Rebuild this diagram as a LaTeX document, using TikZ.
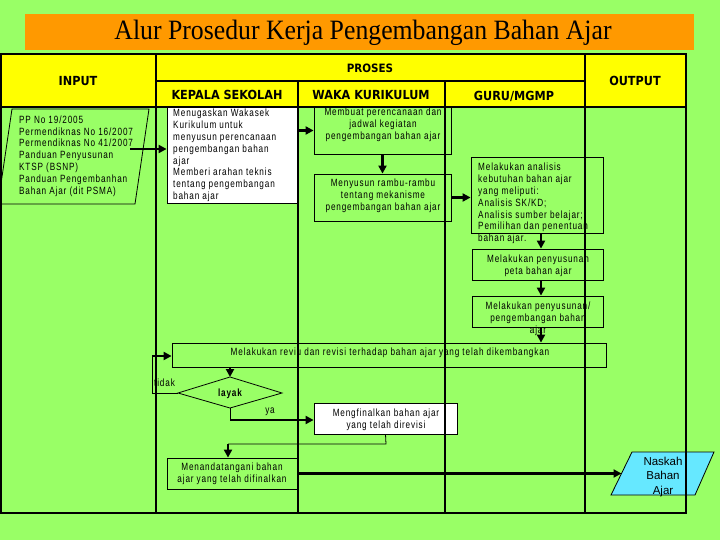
\documentclass[tikz,border=0pt]{standalone}
\usepackage{fontspec}
\usetikzlibrary{arrows.meta,calc}
\setmainfont{Liberation Serif}
\newfontfamily\bodyf[FakeStretch=0.78,LetterSpace=8]{Liberation Sans}
\newfontfamily\headf[FakeStretch=0.9]{DejaVu Sans}
\newfontfamily\titlef[FakeStretch=0.92]{Liberation Serif}
\newfontfamily\naskahf{Liberation Sans}
\definecolor{bg}{RGB}{153,255,102}
\definecolor{hdr}{RGB}{255,255,0}
\definecolor{orn}{RGB}{255,153,0}
\definecolor{cyn}{RGB}{102,232,255}
\tikzset{
  box/.style={draw=black, line width=0.8pt, inner sep=0pt},
  txt/.style={inner sep=0pt, font=\bodyf\fontsize{10.5}{11.8}\selectfont},
  hd/.style={inner sep=0pt, font=\headf\bfseries\fontsize{12.5}{14}\selectfont},
  tbl/.style={line width=2pt, draw=black},
  arr/.style={line width=2.4pt, -{Triangle[length=8pt,width=8pt]}},
  thinline/.style={line width=0.8pt},
}
\begin{document}
\begin{tikzpicture}[x=1pt,y=-1pt]
\useasboundingbox (0,0) rectangle (720,540);
\fill[bg] (0,0) rectangle (720,540);
% title
\fill[orn] (25,14) rectangle (694,50);
\node[inner sep=0pt, font=\titlef\fontsize{28}{30}\selectfont] (title) at (363,33) {Alur Prosedur Kerja Pengembangan Bahan Ajar};
% header
\fill[hdr] (1,54) rectangle (686,107);
\node[hd] (hInput) at (78,81) {INPUT};
\node[hd, font=\headf\bfseries\fontsize{11.5}{13}\selectfont] (hProses) at (370,68) {PROSES};
\node[hd] (hOutput) at (635,81) {OUTPUT};
\node[hd] (hKepala) at (227,95) {KEPALA SEKOLAH};
\node[hd] (hWaka) at (371,95) {WAKA KURIKULUM};
\node[hd] (hGuru) at (514,96) {GURU/MGMP};

% input parallelogram
\draw[thinline, fill=bg] (12,109) -- (149,109) -- (135,204) -- (-2,204) -- cycle;
\node[txt, align=left, anchor=west] (inpT) at (19,156) {PP No 19/2005\\Permendiknas No 16/2007\\Permendiknas No 41/2007\\Panduan Penyusunan\\KTSP (BSNP)\\Panduan Pengembanhan\\Bahan Ajar (dit PSMA)};
\coordinate (inpA) at (130,149);

% boxes
\node[box, fill=white, minimum width=130, minimum height=96] (kep) at (232,155) {};
\node[txt, align=left, anchor=west] (kepT) at (173,155.5) {Menugaskan Wakasek\\Kurikulum untuk\\menyusun perencanaan\\pengembangan bahan\\ajar\\Memberi arahan teknis\\tentang pengembangan\\bahan ajar};
\node[box, minimum width=137, minimum height=47] (w1) at (382.5,130.5) {};
\node[txt, align=center] (w1T) at (383,125) {Membuat perencanaan dan\\jadwal kegiatan\\pengembangan bahan ajar};
\node[box, minimum width=137, minimum height=47] (w2) at (382.5,197.5) {};
\node[txt, align=center] (w2T) at (383,196) {Menyusun rambu-rambu\\tentang mekanisme\\pengembangan bahan ajar};
\node[box, minimum width=132, minimum height=76] (g1) at (537,195) {};
\node[txt, align=left, anchor=west] (g1T) at (478,203.5) {Melakukan analisis\\kebutuhan bahan ajar\\yang meliputi:\\Analisis SK/KD;\\Analisis sumber belajar;\\Pemilihan dan penentuan\\bahan ajar.};
\node[box, minimum width=131, minimum height=31] (g2) at (537.5,264.5) {};
\node[txt, align=center] (g2T) at (538,266) {Melakukan penyusunan\\peta bahan ajar};
\node[box, minimum width=131, minimum height=31] (g3) at (537.5,311.5) {};
\node[txt, align=center] (g3T) at (538,319) {Melakukan penyusunan/\\pengembangan bahan\\ajar};
\node[box, minimum width=434, minimum height=24] (rev) at (389,355) {};
\node[txt] (revT) at (390,353) {Melakukan reviu dan revisi terhadap bahan ajar yang telah dikembangkan};
% diamond
\coordinate (dL) at (178,393);
\coordinate (dT) at (230,377);
\coordinate (dR) at (282,393);
\coordinate (dB) at (230,408);
\draw[thinline] (dL) -- (dT) -- (dR) -- (dB) -- cycle;
\node[txt, font=\bodyf\bfseries\fontsize{10.5}{12}\selectfont] (layak) at (230,394) {layak};
\node[box, fill=white, minimum width=143, minimum height=31] (mf) at (385.5,418.5) {};
\node[txt, align=center] (mfT) at (386,419.5) {Mengfinalkan bahan ajar\\yang telah direvisi};
\node[box, minimum width=131, minimum height=31] (mn) at (232.5,473.5) {};
\node[txt, align=center] (mnT) at (232,473.5) {Menandatangani bahan\\ajar yang telah difinalkan};
% naskah
\draw[thinline, fill=cyn] (632,452) -- (714,452) -- (695,495) -- (611,495) -- cycle;
\coordinate (nsL) at (621.5,473.5);
\node[inner sep=0pt, align=center, font=\naskahf\fontsize{11.5}{14.5}\selectfont] (nsT) at (663,477) {Naskah\\Bahan\\Ajar};

% labels
\node[txt, anchor=west] (tidak) at (154,383) {tidak};
\node[txt] (ya) at (270,412) {ya};

% connectors
\draw[arr] (inpA) -- (kep.west |- inpA);
\draw[arr] (kep.east |- w1.west) -- (w1.west);
\draw[arr] (w1.south) -- (w2.north);
\draw[arr] (w2.east) -- (g1.west |- w2.east);
\draw[arr] ([xshift=4pt]g1.south) -- ([xshift=4pt]g1.south |- g2.north);
\draw[arr] ([xshift=3.5pt]g2.south) -- ([xshift=3.5pt]g2.south |- g3.north);
\draw[arr] ([xshift=3.5pt]g3.south) -- ([xshift=3.5pt]g3.south |- rev.north);
\draw[arr] (rev.south -| dT) -- (dT);
\coordinate (tk) at (152,356);
\draw[thinline] (dL) -| (tk);
\draw[arr] (tk) -- (rev.west |- tk);
\coordinate (yk) at (230,420);
\draw[thinline] (dB) -- (yk);
\draw[arr] (yk) -- (mf.west |- yk);
\coordinate (m1) at (386,444);
\coordinate (m2) at (228,444);
\draw[thinline] (mf.south) -- (m1) -- (m2);
\draw[arr] (m2) -- (m2 |- mn.north);
\draw[arr] (mn.east) -- (nsL);

% table lines
\draw[tbl] (1,54) rectangle (686,513);
\draw[tbl] (1,107) -- (686,107);
\draw[tbl] (156,81) -- (585,81);
\draw[tbl] (156,54) -- (156,513);
\draw[tbl] (585,54) -- (585,513);
\draw[tbl] (298,81) -- (298,513);
\draw[tbl] (445,81) -- (445,513);
\end{tikzpicture}
\end{document}
